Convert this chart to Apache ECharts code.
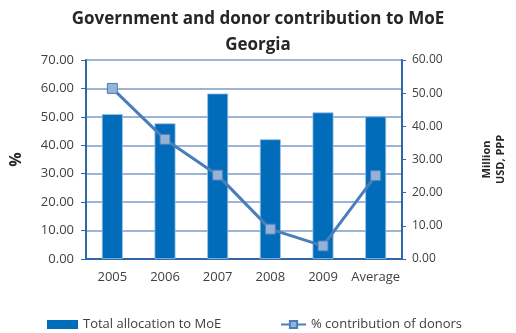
<!DOCTYPE html>
<html><head><meta charset="utf-8">
<script src="https://cdn.jsdelivr.net/npm/echarts@6/dist/echarts.min.js"></script>
<style>html,body{margin:0;padding:0;background:#fff}#c{width:516px;height:333px}</style>
</head><body><div id="c"></div>
<script>
const categories = ['2005','2006','2007','2008','2009','Average'];
const totalAllocation = [43.7, 40.9, 49.9, 36.1, 44.2, 43.0];
const donorPercent = [60.0, 42.1, 29.5, 10.5, 4.6, 29.3];
const leftTicks = {min:0, max:70, interval:10};
const rightTicks = {min:0, max:60, interval:10};

const font = 'Open Sans, Liberation Sans, sans-serif';
const chart = echarts.init(document.getElementById('c'), null, {renderer:'canvas'});
chart.setOption({
  animation:false,
  textStyle:{fontFamily:font},
  title:{
    text:'Government and donor contribution to MoE\nGeorgia',
    left:'center', top:1,
    textStyle:{fontFamily:font, fontWeight:'bold', fontSize:17, color:'#262626', lineHeight:26}
  },
  legend:[
    {data:[{name:'Total allocation to MoE', icon:'rect', itemStyle:{borderWidth:0}}], left:42, top:313, itemWidth:31, itemHeight:9, itemGap:4,
     textStyle:{fontFamily:font, fontSize:13, color:'#404040'}},
    {data:['% contribution of donors'], left:275, top:313, itemWidth:25, itemHeight:9,
     textStyle:{fontFamily:font, fontSize:13, color:'#404040'}}
  ],
  grid:{left:84, right:110, top:60, bottom:74},
  xAxis:{
    type:'category', data:categories,
    axisLine:{lineStyle:{color:'#2F66A8', width:2}},
    axisTick:{show:false},
    axisLabel:{fontFamily:font, fontSize:13, color:'#404040', margin:12, interval:0}
  },
  yAxis:[
    {type:'value', min:leftTicks.min, max:leftTicks.max, interval:leftTicks.interval, position:'left',
     name:'%', nameLocation:'middle', nameGap:62, nameRotate:90,
     nameTextStyle:{fontFamily:font, fontWeight:'bold', fontSize:16, color:'#262626'},
     axisLine:{show:true, lineStyle:{color:'#2F66A8', width:2}},
     axisTick:{show:true, length:5, lineStyle:{color:'#2F66A8'}},
     axisLabel:{fontFamily:font, fontSize:13, color:'#404040', margin:12, formatter:v=>v.toFixed(2)},
     splitLine:{show:true, lineStyle:{color:'#7C9CC6', width:1.5}}
    },
    {type:'value', min:rightTicks.min, max:rightTicks.max, interval:rightTicks.interval, position:'right',
     name:'Million\nUSD, PPP', nameLocation:'middle', nameGap:78, nameRotate:90,
     nameTextStyle:{fontFamily:font, fontWeight:'bold', fontSize:11, color:'#262626', lineHeight:14},
     axisLine:{show:true, lineStyle:{color:'#2F66A8', width:2}},
     axisTick:{show:true, length:4, lineStyle:{color:'#2F66A8'}},
     axisLabel:{fontFamily:font, fontSize:12, color:'#404040', margin:10, formatter:v=>v.toFixed(2)},
     splitLine:{show:false}
    }
  ],
  series:[
    {name:'Total allocation to MoE', type:'bar', yAxisIndex:1, data:totalAllocation,
     barWidth:21, itemStyle:{color:'#006CBA', borderColor:'#9DC3E6', borderWidth:0.8}},
    {name:'% contribution of donors', type:'line', yAxisIndex:0, data:donorPercent,
     symbol:'rect', symbolSize:10,
     lineStyle:{color:'#4A7EBB', width:3},
     itemStyle:{color:'#95B3D7', borderColor:'#4A7EBB', borderWidth:1}}
  ]
});
</script></body></html>
